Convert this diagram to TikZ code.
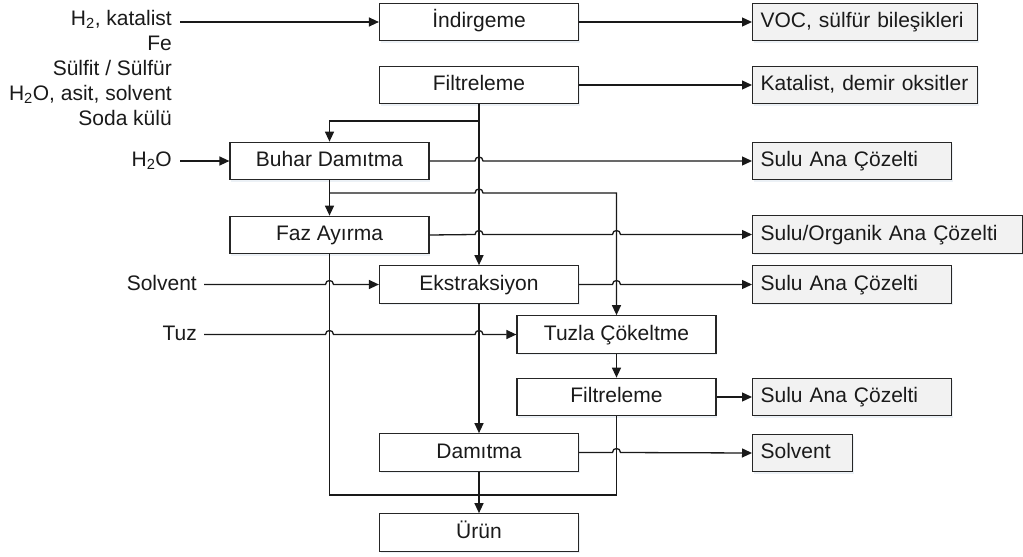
\documentclass[tikz,border=0pt]{standalone}
\usepackage{fontspec}
\setmainfont{Liberation Sans}
\usetikzlibrary{arrows.meta,shadows}
\definecolor{txt}{HTML}{1A1A1A}
\definecolor{outfill}{HTML}{F2F2F2}
\definecolor{shd}{HTML}{B4C6DA}
\tikzset{
  base/.style={font=\fontsize{21}{25}\selectfont, text=txt, text height=15pt, text depth=4pt},
  box/.style={base, draw=black!85, line width=1.2pt, fill=white, minimum height=37.5pt, minimum width=199pt, inner sep=0pt,
    drop shadow={shadow xshift=1pt, shadow yshift=-2pt, opacity=0.25, fill=shd}},
  outb/.style={box, fill=outfill, anchor=west, minimum width=0pt, inner xsep=8pt, text width=#1, align=left},
  lab/.style={base, inner sep=0pt, anchor=base east},
  conn/.style={draw=black!90, line width=1.3pt},
  arr/.style={conn, -{Triangle[length=10pt,width=9pt]}},
  hop/.style 2 args={insert path={ -- ({#1-4},#2) .. controls ({#1-4},{#2-5.3}) and ({#1+4},{#2-5.3}) .. ({#1+4},#2)}}
}
\begin{document}
\begin{tikzpicture}[x=1pt,y=-1pt]
\useasboundingbox (0,0) rectangle (1023,557);

% main process boxes
\node[box] (ind)   at (479,22)    {İndirgeme};
\node[box] (filt1) at (479,85)    {Filtreleme};
\node[box] (buhar) at (329.5,161) {Buhar Damıtma};
\node[box] (faz)   at (329.5,235) {Faz Ayırma};
\node[box] (eks)   at (479,284.5) {Ekstraksiyon};
\node[box] (tuzla) at (616.5,334.5) {Tuzla Çökeltme};
\node[box] (filt2) at (616.5,397) {Filtreleme};
\node[box] (dam)   at (479,452.5) {Damıtma};
\node[box] (urun)  at (479,532.5) {Ürün};

% output boxes
\node[outb=209pt] (voc)   at (752,22)    {VOC, sülfür bileşikleri};
\node[outb=209pt] (kat)   at (752,85)    {Katalist, demir oksitler};
\node[outb=183pt] (sulu1) at (752,161)   {Sulu Ana Çözelti};
\node[outb=254pt] (org)   at (752,234.5) {Sulu/Organik Ana Çözelti};
\node[outb=183pt] (sulu2) at (752,284.5) {Sulu Ana Çözelti};
\node[outb=183pt] (sulu3) at (752,397)   {Sulu Ana Çözelti};
\node[outb=84pt]  (solv)  at (752,453)   {Solvent};

% input labels
\node[lab] (l1) at (172,25)  {H\textsubscript{2}, katalist};
\node[lab] (l2) at (172,50)  {Fe};
\node[lab] (l3) at (172,75)  {Sülfit / Sülfür};
\node[lab] (l4) at (172,100) {H\textsubscript{2}O, asit, solvent};
\node[lab] (l5) at (172,125) {Soda külü};
\node[lab] (lh2o) at (172,166) {H\textsubscript{2}O};
\node[lab] (lsol) at (197,290) {Solvent};
\node[lab] (ltuz) at (197,340) {Tuz};

% connector end points
\coordinate (a1) at (180,22);
\coordinate (a2) at (180,161);
\coordinate (a3) at (204,284.5);
\coordinate (a4) at (204,334.5);
\coordinate (j1) at (479,121);
\coordinate (j2) at (329.5,193);
\coordinate (j3) at (616.5,495);

% inputs
\draw[arr] (a1) -- (ind.west);
\draw[arr] (a2) -- (buhar.west);
\draw[arr] (a3) [hop={329.5}{284.5}] -- (eks.west);
\draw[arr] (a4) [hop={329.5}{334.5}] [hop={479}{334.5}] -- (tuzla.west);

% outputs
\draw[arr] (ind.east) -- (voc.west);
\draw[arr] (filt1.east) -- (kat.west);
\draw[arr] (buhar.east) [hop={479}{161}] -- (sulu1.west);
\draw[arr] (faz.east) [hop={479}{234.5}] [hop={616.5}{234.5}] -- (org.west);
\draw[arr] (eks.east) [hop={616.5}{284.5}] -- (sulu2.west);
\draw[arr] (filt2.east) -- (sulu3.west);
\draw[arr] (dam.east) [hop={616.5}{452.5}] -- (solv.west);

% process flow
\draw[arr] (filt1.south) -- (eks.north);
\draw[arr] (j1) -| (buhar.north);
\draw[arr] (buhar.south) -- (faz.north);
\draw[arr] (j2) [hop={479}{193}] -- (616.5,193) -- (tuzla.north);
\draw[arr] (eks.south) -- (dam.north);
\draw[arr] (tuzla.south) -- (filt2.north);
\draw[conn] (faz.south) |- (j3) -- (filt2.south);
\draw[arr] (dam.south) -- (urun.north);
\end{tikzpicture}
\end{document}
